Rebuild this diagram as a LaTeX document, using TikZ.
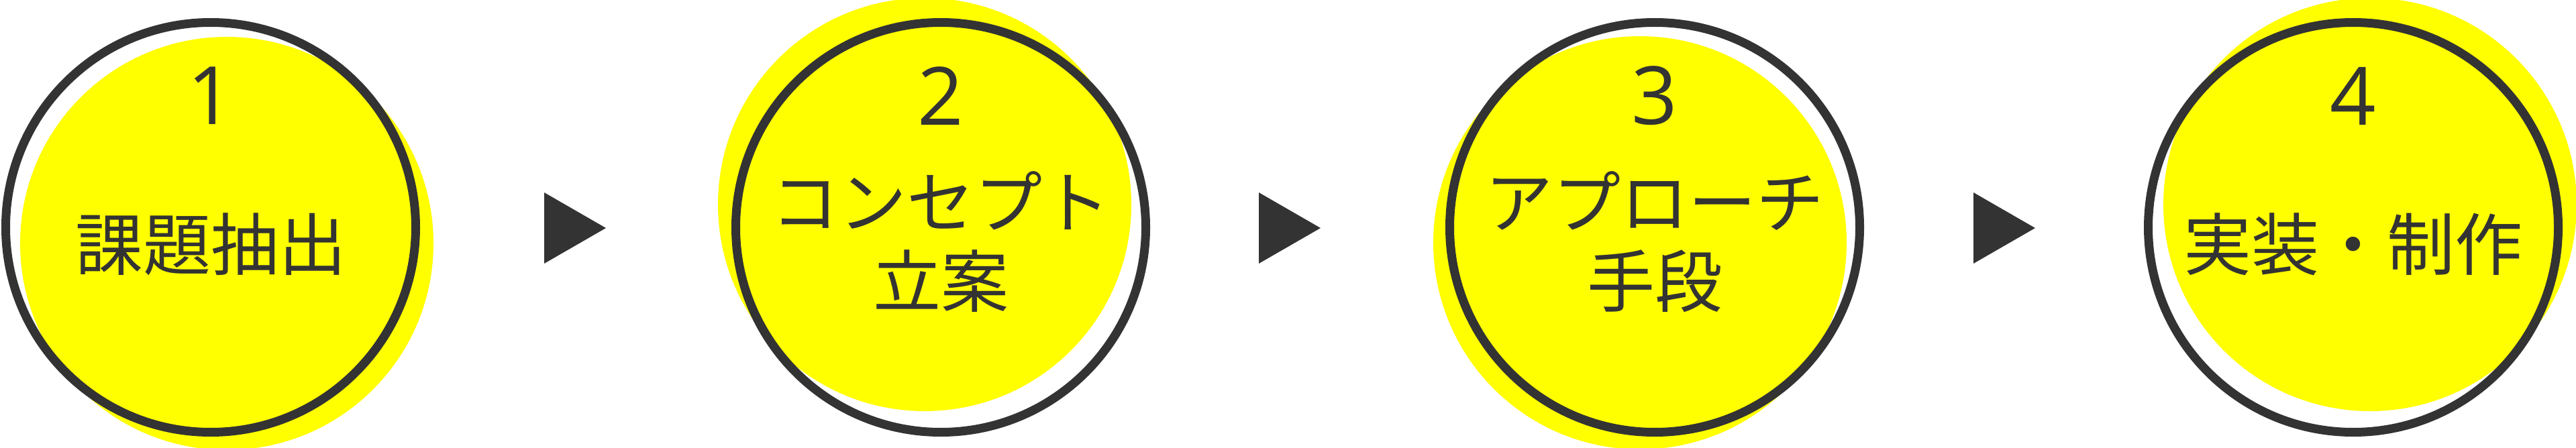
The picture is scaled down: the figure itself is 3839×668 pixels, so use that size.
\documentclass[tikz,border=0pt]{standalone}
\usepackage{fontspec}
\newfontfamily\jp{Noto Sans CJK JP}
\newfontfamily\numfont{Open Sans}
\definecolor{ink}{HTML}{333333}
\definecolor{hl}{HTML}{FFFF00}
\tikzset{
  blob/.style={circle,fill=hl,draw=none,minimum size=616pt,inner sep=0pt},
  ring/.style={circle,draw=ink,line width=13pt,minimum size=611pt,inner sep=0pt},
  num/.style={text=ink,font=\numfont\fontsize{120pt}{120pt}\selectfont,inner sep=0pt},
  lbl/.style={text=ink,font=\jp\fontsize{101pt}{118pt}\selectfont,inner sep=0pt,align=center},
  tri/.style={fill=ink}
}
\begin{document}
\begin{tikzpicture}[x=1pt,y=-1pt]
\useasboundingbox (0,0) rectangle (3839,668);
% yellow blobs
\node[blob] (y1) at (338,363) {};
\node[blob] (y2) at (1378,305) {};
\node[blob] (y3) at (2444,362) {};
\node[blob] (y4) at (3532,305) {};
% rings
\node[ring] (r1) at (314,339) {};
\node[ring] (r2) at (1402,339) {};
\node[ring] (r3) at (2466,339) {};
\node[ring] (r4) at (3507,339) {};
% numbers
\node[num] (n1) at (314,143) {1};
\node[num] (n2) at (1402,143) {2};
\node[num] (n3) at (2466,143) {3};
\node[num] (n4) at (3507,143) {4};
% labels
\node[lbl] (t1) at (314,364) {課題抽出};
\node[lbl] (t2) at (1402,361) {コンセプト\\立案};
\node[lbl] (t3) at (2466,361) {アプローチ\\手段};
\node[lbl] (t4) at (3507,364) {実装・制作};
% triangles
\fill[tri] (811,287) -- (811,393) -- (903,340) -- cycle;
\fill[tri] (1876,287) -- (1876,393) -- (1968,340) -- cycle;
\fill[tri] (2941,287) -- (2941,393) -- (3033,340) -- cycle;
\end{tikzpicture}
\end{document}
